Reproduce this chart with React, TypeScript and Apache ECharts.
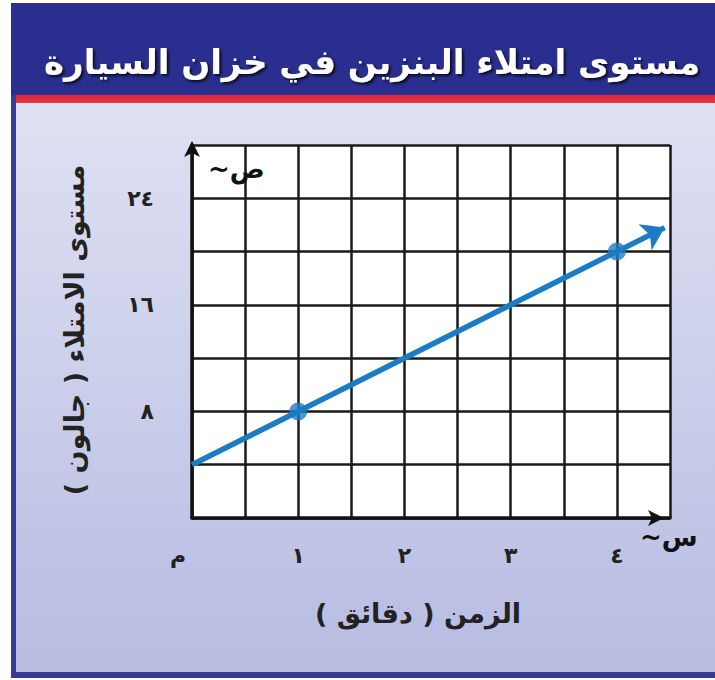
import React, { useEffect, useRef } from "react";
import * as echarts from "echarts";

const titleText = "مستوى امتلاء البنزين في خزان السيارة";
const xAxisTitle = "الزمن ( دقائق )\u200F";
const yAxisTitle = "مستوى الامتلاء ( جالون )\u200F";
const xAxisSymbol = "س~\u200F";
const yAxisSymbol = "ص~\u200F";

const xTickValues = [0, 1, 2, 3, 4];
const xTickLabels = ["م", "١", "٢", "٣", "٤"];
const yTickValues = [8, 16, 24];
const yTickLabels = ["٨", "١٦", "٢٤"];

const lineStart = [0, 4];
const lineEnd = [4.45, 21.8];
const points = [
  [1, 8],
  [4, 20],
];

const FONT = "DejaVu Sans";
const BLUE = "#1b7cc4";

export default function App() {
  const ref = useRef<HTMLDivElement>(null);
  useEffect(() => {
    if (!ref.current) return;
    const chart = echarts.init(ref.current, null, { renderer: "svg" });
    chart.setOption({
      animation: false,
      backgroundColor: "transparent",
      grid: {
        left: 192,
        top: 145,
        right: 45,
        bottom: 162,
        show: true,
        backgroundColor: "#ffffff",
        borderWidth: 0,
      },
      xAxis: {
        type: "value",
        min: 0,
        max: 4.5,
        interval: 0.5,
        axisLine: {
          show: true,
          onZero: false,
          lineStyle: { color: "#111", width: 3.5 },
          symbol: ["none", "arrow"],
          symbolSize: [12, 16],
          symbolOffset: [0, -6],
        },
        axisTick: { show: false },
        splitLine: { show: true, lineStyle: { color: "#1a1a1a", width: 2.5 } },
        axisLabel: {
          show: true,
          margin: 26,
          fontFamily: FONT,
          fontWeight: "bold",
          fontSize: 22,
          color: "#222",
          showMinLabel: true,
          showMaxLabel: true,
          formatter: (v: number) => {
            const i = xTickValues.indexOf(v);
            if (i < 0) return "";
            if (i === 0) return "{o|" + xTickLabels[0] + "}";
            return xTickLabels[i];
          },
          rich: {
            o: {
              fontFamily: FONT,
              fontWeight: "bold",
              fontSize: 22,
              color: "#222",
              padding: [0, 28, 0, 0],
            },
          },
        },
        name: xAxisSymbol,
        nameLocation: "end",
        nameGap: -30,
        nameTextStyle: {
          fontFamily: FONT,
          fontWeight: "bold",
          fontSize: 26,
          color: "#111",
          align: "left",
          verticalAlign: "top",
          padding: [6, 0, 0, 0],
        },
      },
      yAxis: {
        type: "value",
        min: 0,
        max: 28,
        interval: 4,
        axisLine: {
          show: true,
          onZero: false,
          lineStyle: { color: "#111", width: 3.5 },
          symbol: ["none", "arrow"],
          symbolSize: [12, 16],
          symbolOffset: [0, 4],
        },
        axisTick: { show: false },
        splitLine: { show: true, lineStyle: { color: "#1a1a1a", width: 2.5 } },
        axisLabel: {
          show: true,
          margin: 38,
          fontFamily: FONT,
          fontWeight: "bold",
          fontSize: 22,
          color: "#222",
          padding: [0, 0, 16, 0],
          formatter: (v: number) => {
            const i = yTickValues.indexOf(v);
            return i < 0 ? "" : yTickLabels[i];
          },
        },
        name: yAxisSymbol,
        nameLocation: "end",
        nameGap: -24,
        nameTextStyle: {
          fontFamily: FONT,
          fontWeight: "bold",
          fontSize: 26,
          color: "#111",
          align: "left",
          verticalAlign: "middle",
          padding: [0, 0, 0, 16],
        },
      },
      series: [
        {
          type: "lines",
          coordinateSystem: "cartesian2d",
          symbol: ["none", "arrow"],
          symbolSize: 22,
          lineStyle: { color: BLUE, width: 5.5, opacity: 1 },
          data: [{ coords: [lineStart, lineEnd] }],
          z: 5,
        },
        {
          type: "scatter",
          data: points,
          symbol: "circle",
          symbolSize: 18,
          itemStyle: { color: BLUE },
          z: 6,
        },
      ],
      graphic: [
        {
          type: "rect",
          shape: { x: 11, y: 3, width: 704, height: 93 },
          style: { fill: "#2a2f8f" },
        },
        {
          type: "rect",
          shape: { x: 11, y: 95, width: 704, height: 8 },
          style: {
            fill: new echarts.graphic.LinearGradient(0, 0, 0, 1, [
              { offset: 0, color: "#e8232f" },
              { offset: 1, color: "#d63a4a" },
            ]),
          },
        },
        {
          type: "rect",
          shape: { x: 11, y: 95, width: 5, height: 583 },
          style: { fill: "#383a97" },
        },
        {
          type: "rect",
          shape: { x: 11, y: 672, width: 704, height: 6 },
          style: { fill: "#383a97" },
        },
        {
          type: "text",
          x: 372,
          y: 62,
          style: {
            text: titleText,
            fontFamily: FONT,
            fontWeight: "bold",
            fontSize: 34,
            fill: "#ffffff",
            align: "center",
            verticalAlign: "middle",
            textShadowColor: "rgba(0,0,0,0.8)",
            textShadowBlur: 3,
            textShadowOffsetX: 2,
            textShadowOffsetY: 2,
          },
        },
        {
          type: "text",
          x: 418,
          y: 613,
          style: {
            text: xAxisTitle,
            fontFamily: FONT,
            fontWeight: "bold",
            fontSize: 27,
            fill: "#222",
            align: "center",
            verticalAlign: "middle",
          },
        },
        {
          type: "text",
          x: 74,
          y: 330,
          rotation: Math.PI / 2,
          style: {
            text: yAxisTitle,
            fontFamily: FONT,
            fontWeight: "bold",
            fontSize: 27,
            fill: "#222",
            align: "center",
            verticalAlign: "middle",
          },
        },
      ],
    });
    return () => chart.dispose();
  }, []);
  return (
    <div
      ref={ref}
      style={{
        position: "fixed",
        left: 0,
        top: 0,
        width: 715,
        height: 680,
        background:
          "linear-gradient(to bottom, #dfe2f3, #b7bbe1) 11px 95px / 704px 583px no-repeat, #ffffff",
      }}
    />
  );
}
